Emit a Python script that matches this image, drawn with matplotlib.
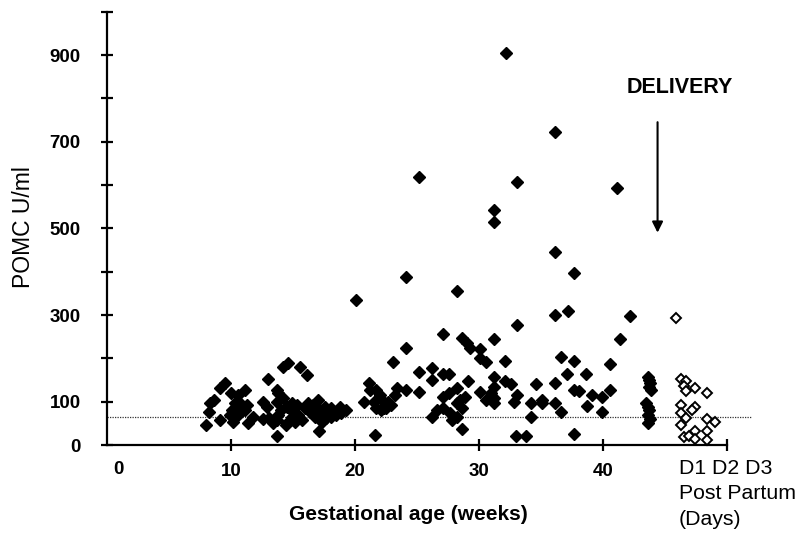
import numpy as np
import matplotlib
matplotlib.use("Agg")
import matplotlib.pyplot as plt

plt.rcParams['font.family'] = ['Liberation Sans', 'DejaVu Sans']

# pregnancy samples (weeks, POMC U/ml)
preg_weeks = [8.0, 8.2, 8.6, 8.3, 9.1, 9.1, 9.5, 10.0, 10.6, 11.1, 10.3, 10.7,
              10.1, 9.9, 10.6, 11.1, 11.8, 11.4, 10.2, 10.5, 11.3,
              12.6, 12.9, 13.1, 12.6, 13.4, 13.8, 13.7, 13.8, 13.0, 13.7, 14.2,
              14.9, 14.5, 15.3, 15.0, 15.4, 14.9, 15.2, 14.5, 15.7, 13.7, 14.2,
              14.6, 15.6, 16.1, 14.0, 13.7, 14.4,
              17.0, 16.6, 17.2, 16.4, 17.4, 16.8, 17.7, 17.3, 18.0, 17.1, 16.2,
              16.0, 17.6, 18.1, 18.8, 19.3, 18.5, 18.1, 18.9,
              20.1, 21.1, 21.2, 21.7, 22.0, 20.7, 21.5, 21.7, 22.3, 22.4, 23.4,
              24.1, 23.2, 22.7, 22.9, 22.5, 22.1, 21.6, 23.1, 24.1, 24.1, 25.2,
              25.2, 26.2, 27.1, 27.6, 26.2, 25.2, 27.1, 27.6, 28.2, 26.2, 26.6,
              27.1, 27.7, 27.8, 28.2, 28.6, 28.2, 28.6, 27.1, 28.2, 28.6, 29.0,
              29.3, 29.1, 28.9, 28.5,
              30.1, 30.1, 30.6, 32.1, 31.2, 31.2, 32.1, 32.6, 30.1, 31.2, 31.0,
              31.2, 30.6, 31.2, 33.1, 32.8, 34.2, 33.0, 33.8, 34.2, 34.6, 33.1,
              33.1, 31.2, 31.2, 32.2,
              35.1, 35.1, 36.1, 36.1, 36.6, 36.6, 37.7, 37.1, 38.6, 37.7, 38.1,
              39.1, 38.7, 39.9, 39.9, 37.7, 36.1, 37.2, 36.1, 37.7, 36.1, 40.6,
              40.6, 41.4, 42.2, 41.1,
              43.6, 43.7, 43.8, 43.7, 43.9, 43.5, 43.6, 43.7, 43.6, 43.8, 43.6]
preg_pomc = [46, 77, 104, 98, 58, 131, 142, 119, 115, 127, 96, 96,
             81, 69, 69, 81, 65, 50, 54, 85, 92,
             100, 88, 62, 60, 50, 69, 100, 119, 152, 127, 108,
             96, 88, 92, 77, 69, 65, 54, 51, 58, 21, 181,
             189, 181, 162, 81, 58, 46,
             104, 92, 81, 77, 69, 64, 62, 54, 77, 33, 96,
             85, 88, 85, 88, 81, 69, 65, 75,
             335, 142, 127, 127, 115, 100, 100, 85, 85, 96, 131,
             127, 115, 100, 92, 85, 81, 23, 191, 225, 388, 618,
             168, 177, 165, 165, 150, 123, 111, 119, 131, 65, 81,
             85, 73, 58, 65, 38, 96, 85, 256, 356, 246, 235,
             223, 148, 111, 104,
             221, 201, 192, 195, 245, 158, 148, 141, 123, 135, 119,
             108, 104, 96, 115, 100, 98, 21, 21, 64, 141, 277,
             607, 542, 514, 905,
             105, 96, 98, 142, 77, 204, 195, 165, 165, 128, 125,
             115, 91, 111, 77, 25, 300, 309, 446, 398, 722, 187,
             127, 244, 298, 593,
             158, 150, 143, 135, 128, 98, 88, 80, 70, 60, 50]

# post partum samples (open diamonds)
pp_x = [45.9, 46.3, 46.7, 46.5, 47.4, 46.7, 48.4, 46.3, 47.4, 47.2, 46.3,
        46.7, 48.4, 49.0, 46.3, 47.4, 48.4, 46.5, 46.9, 47.4, 48.4]
pp_pomc = [294, 152, 148, 136, 132, 125, 119, 92, 88, 80, 75,
           62, 60, 54, 46, 33, 33, 18, 21, 15, 12]

ref_level = 65
xtick_vals = [10, 20, 30, 40, 50]
xtick_text = ['10', '20', '30', '40', '']
ytick_vals = list(range(0, 1001, 100))
ytick_text = ['0', '100', '', '300', '', '500', '', '700', '', '900', '']

fig = plt.figure(figsize=(7.99, 5.36), dpi=100)
ax = fig.add_axes([107 / 799, 1 - 445 / 536, 620 / 799, 433.3 / 536])

ax.plot(preg_weeks, preg_pomc, linestyle='none', marker='D', ms=6.2,
        color='black', clip_on=False, zorder=3)
ax.plot(pp_x, pp_pomc, linestyle='none', marker='D', ms=5.6,
        markerfacecolor='white', markeredgecolor='black', mew=1.4,
        clip_on=False, zorder=3)

ax.plot([0, 52], [ref_level, ref_level], linestyle=(0, (1, 1)),
        color='#333333', lw=0.9, clip_on=False, zorder=1)

ax.set_xlim(0, 50)
ax.set_ylim(0, 1000)
for s in ['top', 'right']:
    ax.spines[s].set_visible(False)
for s in ['left', 'bottom']:
    ax.spines[s].set_linewidth(1.6)

ax.set_xticks(xtick_vals)
ax.set_xticklabels(xtick_text, fontsize=13.5, fontweight='bold')
ax.set_yticks(ytick_vals)
ax.set_yticklabels(ytick_text, fontsize=13.5, fontweight='bold')
ax.tick_params(axis='both', direction='inout', length=8, width=1.6)
ax.tick_params(axis='y', pad=15)
ax.tick_params(axis='x', pad=9)

ax.text(0.9, -0.036, '0', transform=ax.get_xaxis_transform(), fontsize=13.5,
        fontweight='bold', ha='center', va='top')

ax.text(46.2, 826, 'DELIVERY', fontsize=15.5, fontweight='bold',
        ha='center', va='center', clip_on=False)
ax.annotate('', xy=(44.4, 490), xytext=(44.4, 745),
            arrowprops=dict(arrowstyle='-|>', lw=1.5, color='black',
                            mutation_scale=16, shrinkA=0, shrinkB=0))

fig.text(24 / 799, 1 - 227 / 536, 'POMC U/ml', rotation=90, fontsize=16.5,
         ha='center', va='center')
fig.text(408 / 799, 1 - 515 / 536, 'Gestational age (weeks)', fontsize=15,
         fontweight='bold', ha='center', va='center')
fig.text(679 / 799, 1 - 459 / 536, 'D1 D2 D3\nPost Partum\n(Days)',
         fontsize=15.3, ha='left', va='top', linespacing=1.43)

fig.savefig('out.png', dpi=100)
